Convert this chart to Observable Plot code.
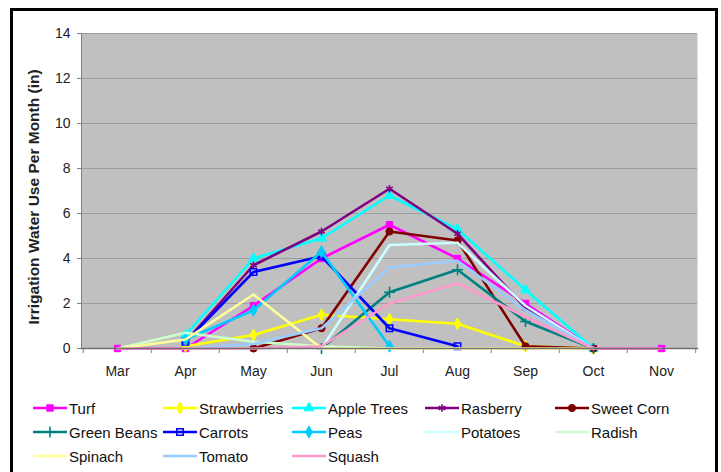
<!DOCTYPE html>
<html>
<head>
<meta charset="utf-8">
<script src="https://cdn.jsdelivr.net/npm/d3@7"></script>
<script src="https://cdn.jsdelivr.net/npm/@observablehq/plot@0.6"></script>
<style>
  html, body { margin: 0; padding: 0; background: #fff; }
  #page { position: relative; width: 721px; height: 472px; overflow: hidden; font-family: "Liberation Sans", Arial, sans-serif; }
  #chart { position: absolute; left: 0; top: 0; }
  #frame { position: absolute; left: 10px; top: 8px; width: 702px; height: 480px; border: 3px solid #000; border-bottom: none; pointer-events: none; }
  #legend { position: absolute; left: 0; top: 0; width: 721px; height: 472px; }
  .item { position: absolute; display: flex; align-items: center; font-size: 15px; color: #111; white-space: nowrap; }
  .item svg { display: block; margin-right: 2px; }
</style>
</head>
<body>
<div id="page">
  <div id="chart"></div>
  <div id="legend"></div>
  <div id="frame"></div>
</div>
<script>
// Months on the x axis and y tick values
const months = ["Mar", "Apr", "May", "Jun", "Jul", "Aug", "Sep", "Oct", "Nov"];
const yTicks = [0, 2, 4, 6, 8, 10, 12, 14];

// Monthly irrigation water use (inches), one array per crop, aligned with months
const turf         = [0,    0,    1.9, 4.0, 5.5, 4.0, 2.0, 0,    0];
const strawberries = [null, 0.1,  0.6, 1.5, 1.3, 1.1, 0.1, 0,    null];
const appleTrees   = [null, 0.6,  4.0, 4.9, 6.8, 5.3, 2.6, 0,    null];
const rasberry     = [null, 0.3,  3.7, 5.2, 7.1, 5.1, 1.8, 0,    null];
const sweetCorn    = [null, null, 0,   0.9, 5.2, 4.8, 0.1, 0,    null];
const greenBeans   = [null, null, null, 0,  2.5, 3.5, 1.2, 0,    null];
const carrots      = [null, 0.3,  3.4, 4.1, 0.9, 0.1, null, null, null];
const peas         = [null, 0.4,  1.7, 4.3, 0.1, null, null, null, null];
const potatoes     = [null, null, null, 0,  4.6, 4.7, 1.9, 0,    null];
const radish       = [0,    0.7,  0.3, 0.1, 0,   null, null, null, null];
const spinach      = [0,    0.4,  2.4, 0,   0,   0,   0,   0,    null];
const tomato       = [null, 0,    0.2, 0.9, 3.6, 3.9, 1.7, 0,    null];
const squash       = [0,    0,    0,   0.1, 2.0, 2.9, 1.4, 0,    0];

const cropNames = ["Turf", "Strawberries", "Apple Trees", "Rasberry", "Sweet Corn",
  "Green Beans", "Carrots", "Peas", "Potatoes", "Radish", "Spinach", "Tomato", "Squash"];
const cropValues = [turf, strawberries, appleTrees, rasberry, sweetCorn,
  greenBeans, carrots, peas, potatoes, radish, spinach, tomato, squash];

// Series styling: line colour and marker
const styles = [
  {color: "#FF00FF", symbol: "square",   marker: "fill"},
  {color: "#FFFF00", symbol: "diamond",  marker: "fill"},
  {color: "#00FFFF", symbol: "triangle", marker: "fill"},
  {color: "#800080", symbol: "asterisk", marker: "stroke"},
  {color: "#800000", symbol: "circle",   marker: "fill"},
  {color: "#008080", symbol: "plus",     marker: "stroke"},
  {color: "#0000FF", symbol: "square",   marker: "hollow"},
  {color: "#00CCFF", symbol: "diamond",  marker: "fill"},
  {color: "#CCFFFF"},
  {color: "#CCFFCC"},
  {color: "#FFFF99"},
  {color: "#99CCFF"},
  {color: "#FF99CC"}
];

const crops = cropNames.map((name, i) => ({
  name, ...styles[i],
  points: months.map((month, j) => ({month, value: cropValues[i][j]}))
}));

const markerR = 3.6;

function markerOptions(c) {
  if (c.marker === "fill") return {fill: c.color, stroke: c.color, strokeWidth: 1};
  return {fill: "none", stroke: c.color, strokeWidth: 1.6};
}

const seriesMarks = crops.flatMap(c => {
  const marks = [
    Plot.line(c.points, {x: "month", y: "value", stroke: c.color, strokeWidth: 2.6})
  ];
  if (c.symbol) {
    marks.push(Plot.dot(c.points.filter(d => d.value != null), {
      x: "month", y: "value", symbol: c.symbol, r: markerR, ...markerOptions(c)
    }));
  }
  return marks;
});

const chart = Plot.plot({
  width: 721,
  height: 390,
  marginLeft: 81,
  marginRight: 24,
  marginTop: 33,
  marginBottom: 42,
  style: {background: "transparent", fontFamily: "Liberation Sans, Arial, sans-serif", fontSize: "14px", color: "#222"},
  x: {type: "point", domain: months, padding: 0.5},
  y: {domain: [0, 14]},
  marks: [
    Plot.frame({fill: "#C0C0C0", stroke: "none"}),
    Plot.gridY(yTicks, {stroke: "#9E9E9E", strokeOpacity: 1, strokeWidth: 1}),
    Plot.frame({anchor: "left", stroke: "#808080"}),
    Plot.axisY(yTicks, {tickSize: 4, tickPadding: 7, stroke: "#808080", fill: "#222", label: null}),
    Plot.text(["Irrigation Water Use Per Month (in)"], {
      frameAnchor: "left", textAnchor: "middle", rotate: -90, dx: -47, dy: 6,
      fontWeight: "bold", fontSize: 15.5, fill: "#222"
    }),
    // category boundary ticks below the axis
    Plot.axisX(months, {tickSize: 5, text: null, dx: -34.2, stroke: "#808080", label: null}),
    Plot.axisX(["Nov"], {tickSize: 5, text: null, dx: 34.2, stroke: "#808080", label: null}),
    Plot.axisX(months, {tickSize: 0, tickPadding: 18, fill: "#222", label: null}),
    ...seriesMarks,
    Plot.frame({anchor: "bottom", stroke: "#707070", strokeWidth: 1.5})
  ]
});
document.getElementById("chart").append(chart);

// Legend: five columns, three rows
const legendTextX = [69, 199, 328, 461, 591];
const legendRowY = [408, 432, 456];
const d3Symbols = {
  square: d3.symbolSquare, diamond: d3.symbolDiamond, triangle: d3.symbolTriangle,
  asterisk: d3.symbolAsterisk, circle: d3.symbolCircle, plus: d3.symbolPlus
};
const legend = d3.select("#legend");
crops.forEach((c, i) => {
  const col = i % 5, row = Math.floor(i / 5);
  const item = legend.append("div").attr("class", "item")
    .style("left", (legendTextX[col] - 36) + "px")
    .style("top", (legendRowY[row] - 9) + "px")
    .style("height", "18px");
  const svg = item.append("svg").attr("width", 34).attr("height", 18);
  svg.append("line").attr("x1", 0).attr("x2", 34).attr("y1", 9).attr("y2", 9)
    .attr("stroke", c.color).attr("stroke-width", 2.6);
  if (c.symbol) {
    const mo = markerOptions(c);
    svg.append("path")
      .attr("transform", "translate(17,9)")
      .attr("d", d3.symbol(d3Symbols[c.symbol], markerR * markerR * Math.PI)())
      .attr("fill", mo.fill).attr("stroke", mo.stroke).attr("stroke-width", mo.strokeWidth);
  }
  item.append("span").text(c.name);
});
</script>
</body>
</html>
